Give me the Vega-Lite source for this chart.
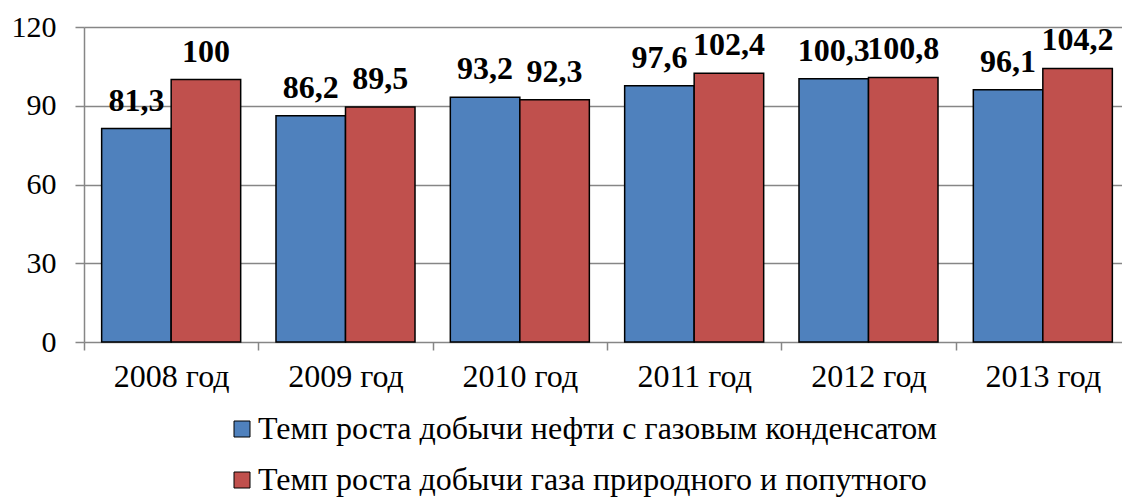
{
  "$schema": "https://vega.github.io/schema/vega-lite/v6.json",
  "autosize": {"type": "none"},
  "width": 1038,
  "height": 315,
  "padding": {"left": 84, "top": 27, "right": 0, "bottom": 155},
  "view": {"stroke": null},
  "data": {
    "values": [
      {"year": "2008 год", "series": "Темп роста добычи нефти с газовым конденсатом", "value": 81.3, "label": "81,3"},
      {"year": "2008 год", "series": "Темп роста добычи газа природного и попутного", "value": 100, "label": "100"},
      {"year": "2009 год", "series": "Темп роста добычи нефти с газовым конденсатом", "value": 86.2, "label": "86,2"},
      {"year": "2009 год", "series": "Темп роста добычи газа природного и попутного", "value": 89.5, "label": "89,5"},
      {"year": "2010 год", "series": "Темп роста добычи нефти с газовым конденсатом", "value": 93.2, "label": "93,2"},
      {"year": "2010 год", "series": "Темп роста добычи газа природного и попутного", "value": 92.3, "label": "92,3"},
      {"year": "2011 год", "series": "Темп роста добычи нефти с газовым конденсатом", "value": 97.6, "label": "97,6"},
      {"year": "2011 год", "series": "Темп роста добычи газа природного и попутного", "value": 102.4, "label": "102,4"},
      {"year": "2012 год", "series": "Темп роста добычи нефти с газовым конденсатом", "value": 100.3, "label": "100,3"},
      {"year": "2012 год", "series": "Темп роста добычи газа природного и попутного", "value": 100.8, "label": "100,8"},
      {"year": "2013 год", "series": "Темп роста добычи нефти с газовым конденсатом", "value": 96.1, "label": "96,1"},
      {"year": "2013 год", "series": "Темп роста добычи газа природного и попутного", "value": 104.2, "label": "104,2"}
    ]
  },
  "encoding": {
    "x": {
      "field": "year", "type": "nominal", "sort": null,
      "scale": {"range": [0, 1046], "paddingInner": 0, "paddingOuter": 0},
      "axis": {
        "title": null, "labelAngle": 0, "labelFontSize": 32, "labelFont": "Liberation Serif",
        "labelColor": "black", "labelPadding": 11, "tickBand": "extent", "tickSize": 8,
        "tickColor": "#868686", "tickWidth": 1.5, "domain": false, "grid": false
      }
    },
    "xOffset": {
      "field": "series", "type": "nominal",
      "sort": ["Темп роста добычи нефти с газовым конденсатом", "Темп роста добычи газа природного и попутного"],
      "scale": {"paddingInner": 0, "paddingOuter": 0.254}
    },
    "y": {
      "field": "value", "type": "quantitative",
      "scale": {"domain": [0, 120], "nice": false},
      "axis": {
        "title": null, "values": [0, 30, 60, 90, 120], "labelFontSize": 30, "labelFont": "Liberation Serif",
        "labelColor": "black", "labelPadding": 19, "tickSize": 9, "tickColor": "#868686", "tickWidth": 1.5,
        "domainColor": "#868686", "domainWidth": 1.5, "gridColor": "#868686", "gridWidth": 1.5
      }
    }
  },
  "layer": [
    {
      "mark": {"type": "bar", "stroke": "black", "strokeWidth": 1.5},
      "encoding": {
        "color": {
          "field": "series", "type": "nominal",
          "scale": {
            "domain": ["Темп роста добычи нефти с газовым конденсатом", "Темп роста добычи газа природного и попутного"],
            "range": ["#4F81BD", "#C0504D"]
          },
          "legend": {
            "title": null, "orient": "none", "direction": "vertical", "legendX": 142, "legendY": 386,
            "symbolType": "square", "symbolSize": 256, "symbolStrokeColor": "black", "symbolStrokeWidth": 1,
            "symbolOpacity": 1,
            "labelFontSize": 32, "labelFont": "Liberation Serif", "labelColor": "black", "labelLimit": 0,
            "labelOffset": 0, "rowPadding": 19
          }
        }
      }
    },
    {
      "mark": {"type": "text", "fontWeight": "bold", "fontSize": 32, "font": "Liberation Serif", "baseline": "alphabetic", "dy": -18, "color": "black"},
      "encoding": {
        "text": {"field": "label", "type": "nominal"}
      }
    }
  ]
}
